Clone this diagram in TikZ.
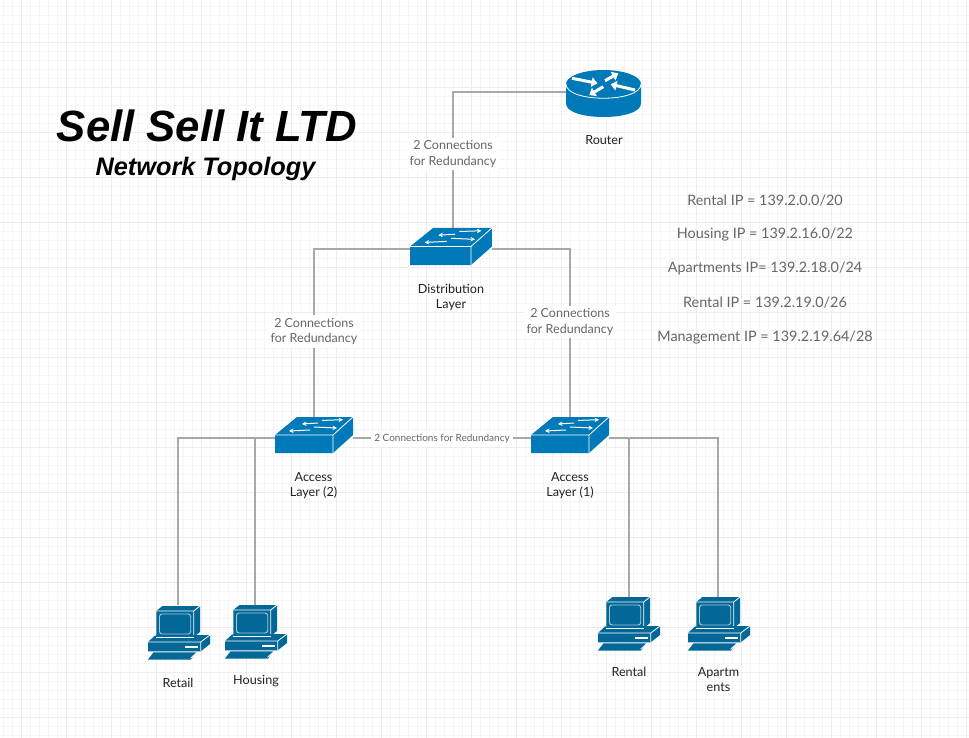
\documentclass[tikz,border=0pt]{standalone}
\usepackage{fontspec}
\setmainfont{Lato}
\newfontfamily\titlefont{Liberation Sans}
\usetikzlibrary{arrows.meta}
\definecolor{swblue}{HTML}{0079B8}
\definecolor{pcblue}{HTML}{036897}
\definecolor{linkgray}{HTML}{A8A8A8}
\definecolor{labelgray}{HTML}{666666}
\definecolor{textdark}{HTML}{222222}
\tikzset{
  x=1pt,y=-1pt,
  link/.style={draw=linkgray,line width=1.5pt},
  devbox/.style={inner sep=0pt,outer sep=0pt,minimum width=#1,minimum height=42pt},
  devlabel/.style={font=\fontsize{12.6}{15}\selectfont,text=textdark,align=center,inner sep=0pt},
  linklabel/.style={font=\fontsize{12.5}{15.5}\selectfont,text=labelgray,fill=white,align=center,inner sep=3pt},
  iplabel/.style={font=\fontsize{14.4}{17}\selectfont,text=labelgray,inner sep=0pt},
  whiteedge/.style={draw=white,line width=0.8pt,line join=round},
  swarrow/.style={draw=white,line width=1pt,-{Stealth[length=4.5pt,width=4.5pt]}},
  rtarrow/.style={draw=white,line width=3pt,-{Triangle[length=6pt,width=9.5pt]}}
}
\newcommand{\switchicon}[4]{%
  \begin{scope}[shift={(#1,#2)},xscale=#3,yscale=#4]
    \fill[swblue] (0,18) -- (22,0) -- (78,0) -- (78,18) -- (58,36) -- (0,36) -- cycle;
    \draw[whiteedge] (0,18) -- (58,18) -- (78,0) (58,18) -- (58,36);
    \draw[swarrow] (47,3.4) -- (68,2.7);
    \draw[swarrow] (43,6) -- (27,7);
    \draw[swarrow] (39,10) -- (62,11);
    \draw[swarrow] (35,13) -- (14,14);
  \end{scope}}
\newcommand{\pcicon}[2]{%
  \begin{scope}[shift={(#1,#2)}]
    \fill[pcblue] (8.3,5) -- (14.5,0) -- (52,0) -- (52,26) -- (45.7,31) -- (8.3,31) -- cycle;
    \draw[whiteedge] (8.3,5) -- (45.7,5) -- (52,0) (45.7,5) -- (45.7,31);
    \draw[draw=white!65!pcblue,line width=0.9pt,rounded corners=2.5pt] (11.5,8) rectangle (42.7,28);
    \fill[pcblue] (0,36) -- (7,29.5) -- (62,29) -- (62,38) -- (52.7,45.3) -- (0,45.3) -- cycle;
    \draw[whiteedge] (0,36) -- (52.7,36) -- (62,29) (52.7,36) -- (52.7,45.3);
    \draw[white,line width=0.9pt] (8.3,31) -- (45.7,31);
    \fill[white] (36.7,40.3) rectangle (50,42);
    \fill[pcblue] (0,53.5) -- (5.5,46.3) -- (48,46.3) -- (43,53.5) -- cycle;
    \draw[white,line width=0.6pt] (47.5,47.5) -- (42.5,52.3);
  \end{scope}}
\begin{document}
\begin{tikzpicture}
  \useasboundingbox (0,0) rectangle (969,738);
  \fill[white] (0,0) rectangle (969,738);
  % grid
  \foreach \gx in {0,...,107} \draw[draw=black!4,line width=0.6pt] ({3.5+9*\gx},0) -- ({3.5+9*\gx},738);
  \foreach \gy in {0,...,81} \draw[draw=black!4,line width=0.6pt] (0,{6+9*\gy}) -- (969,{6+9*\gy});
  \foreach \gx in {0,...,21} \draw[draw=black!7,line width=0.7pt] ({21.5+45*\gx},0) -- ({21.5+45*\gx},738);
  \foreach \gy in {0,...,15} \draw[draw=black!7,line width=0.7pt] (0,{42+45*\gy}) -- (969,{42+45*\gy});

  % anchors of the devices
  \node[devbox=75pt,minimum height=50pt] (router) at (603.5,92) {};
  \node[devbox=78pt] (dist) at (453,249) {};
  \node[devbox=78pt] (acctwo) at (314,438) {};
  \node[devbox=78pt] (accone) at (570,438) {};
  \node[devbox=60pt,minimum height=56pt] (retail) at (178,633) {};
  \node[devbox=60pt,minimum height=54pt] (housing) at (255,632) {};
  \node[devbox=60pt,minimum height=54pt] (rental) at (629,624) {};
  \node[devbox=60pt,minimum height=54pt] (apart) at (718,624) {};

  % connectors
  \draw[link] (router.west) -| (dist.north);
  \draw[link] (dist.west) -| (acctwo.north);
  \draw[link] (dist.east) -| (accone.north);
  \draw[link] (acctwo.east) -- (accone.west);
  \draw[link] (acctwo.west) -| (retail.north);
  \draw[link] (acctwo.west) -| (housing.north);
  \draw[link] (accone.east) -| (rental.north);
  \draw[link] (accone.east) -| (apart.north);

  % connector labels
  \node[linklabel] (lbla) at (453,154) {2 Connections\\for Redundancy};
  \node[linklabel] (lblb) at (314,331.5) {2 Connections\\for Redundancy};
  \node[linklabel] (lblc) at (570,322) {2 Connections\\for Redundancy};
  \node[linklabel,font=\fontsize{10}{12}\selectfont] (lbld) at (442,439) {2 Connections for Redundancy};

  % router icon
  \fill[swblue] (566,84) -- (566,103.5) .. controls (566,121.5) and (641,121.5) .. (641,103.5) -- (641,84) -- cycle;
  \fill[swblue] (603.5,84) ellipse [x radius=37.5,y radius=14];
  \draw[whiteedge] (566,84) .. controls (566,103) and (641,103) .. (641,84);
  \draw[rtarrow] (572,78.3) -- (597.5,83.3);
  \draw[rtarrow] (605,80.7) -- (618.3,73.3);
  \draw[rtarrow] (635,90) -- (610.7,84.3);
  \draw[rtarrow] (603.3,86.7) -- (589.3,95);

  % switch icons
  \switchicon{410}{228}{1.05}{1.03}
  \switchicon{275}{417}{1}{1}
  \switchicon{531}{417}{1}{1}

  % computer icons
  \pcicon{148}{606}
  \pcicon{225}{605}
  \pcicon{598}{597}
  \pcicon{688}{597}

  % device labels
  \node[devlabel] (trouter) at (604,140) {Router};
  \node[devlabel] (tdist) at (451,297) {Distribution\\Layer};
  \node[devlabel] (tacctwo) at (313.5,486) {Access\\Layer (2)};
  \node[devlabel] (taccone) at (570,486) {Access\\Layer (1)};
  \node[devlabel] (tretail) at (178,683) {Retail};
  \node[devlabel] (thousing) at (256,681) {Housing};
  \node[devlabel] (trental) at (629,672) {Rental};
  \node[devlabel] (tapart) at (718.5,680) {Apartm\\ents};

  % IP plan
  \node[iplabel] (ipa) at (765,200.5) {Rental IP = 139.2.0.0/20};
  \node[iplabel] (ipb) at (765,234.5) {Housing IP = 139.2.16.0/22};
  \node[iplabel] (ipc) at (765,268.5) {Apartments IP= 139.2.18.0/24};
  \node[iplabel] (ipd) at (765,302.5) {Rental IP = 139.2.19.0/26};
  \node[iplabel] (ipe) at (765,337.5) {Management IP = 139.2.19.64/28};

  % title
  \node[inner sep=0pt,font=\titlefont\bfseries\itshape\fontsize{43.7}{50}\selectfont] (title) at (207,126) {Sell Sell It LTD};
  \node[inner sep=0pt,font=\titlefont\bfseries\itshape\fontsize{25.3}{30}\selectfont] (subtitle) at (205.5,168.5) {Network Topology};
\end{tikzpicture}
\end{document}
